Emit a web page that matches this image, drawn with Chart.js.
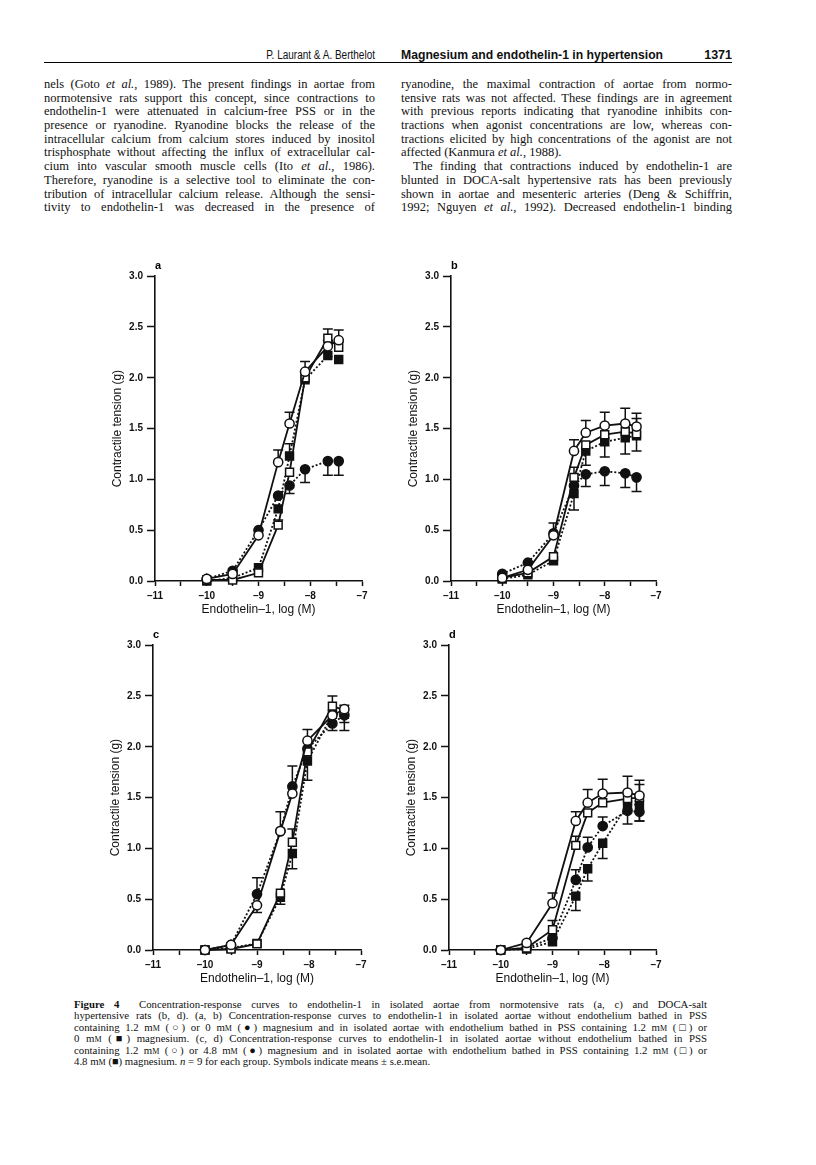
<!DOCTYPE html>
<html>
<head>
<meta charset="utf-8">
<script src="https://cdn.jsdelivr.net/npm/chart.js@4.4.1/dist/chart.umd.min.js"></script>
<style>
  body { margin: 0; background: #fff; width: 816px; height: 1165px; position: relative; overflow: hidden;
         font-family: "Liberation Serif", "Times New Roman", serif; color: #111; }
  .hdr { position: absolute; left: 44px; top: 0; width: 688px; height: 62px; border-bottom: 1.6px solid #000; }
  .hdr span { position: absolute; top: 48px; font-family: "Liberation Sans Narrow", "Arial Narrow", "Liberation Sans", sans-serif; font-size: 12.5px; line-height: 14px; white-space: nowrap; }
  .col { position: absolute; top: 78px; width: 331px; font-size: 12.5px; line-height: 13.7px; }
  .col div { text-align: justify; text-align-last: justify; height: 13.7px; }
  .col div.l { text-align-last: left; }
  .cap { position: absolute; left: 74px; top: 999px; width: 633px; font-size: 10.8px; line-height: 11.4px; }
  .cap div { text-align: justify; text-align-last: justify; height: 11.4px; }
  .cap div.l { text-align-last: left; }
  .sc { font-variant: small-caps; }
  canvas { position: absolute; }
</style>
</head>
<body>

<div class="hdr">
  <span style="right:357px;transform:scaleX(0.8);transform-origin:right">P. Laurant &amp; A. Berthelot</span>
  <span style="left:357px;font-weight:bold;transform:scaleX(0.975);transform-origin:left">Magnesium and endothelin-1 in hypertension</span>
  <span style="right:0;font-weight:bold;font-family:'Liberation Sans',sans-serif">1371</span>
</div>

<div class="col" style="left:44px">
  <div>nels (Goto <i>et al.</i>, 1989). The present findings in aortae from</div>
  <div>normotensive rats support this concept, since contractions to</div>
  <div>endothelin-1 were attenuated in calcium-free PSS or in the</div>
  <div>presence or ryanodine. Ryanodine blocks the release of the</div>
  <div>intracellular calcium from calcium stores induced by inositol</div>
  <div>trisphosphate without affecting the influx of extracellular cal-</div>
  <div>cium into vascular smooth muscle cells (Ito <i>et al.</i>, 1986).</div>
  <div>Therefore, ryanodine is a selective tool to eliminate the con-</div>
  <div>tribution of intracellular calcium release. Although the sensi-</div>
  <div>tivity to endothelin-1 was decreased in the presence of</div>
</div>

<div class="col" style="left:401px">
  <div>ryanodine, the maximal contraction of aortae from normo-</div>
  <div>tensive rats was not affected. These findings are in agreement</div>
  <div>with previous reports indicating that ryanodine inhibits con-</div>
  <div>tractions when agonist concentrations are low, whereas con-</div>
  <div>tractions elicited by high concentrations of the agonist are not</div>
  <div class="l">affected (Kanmura <i>et al.</i>, 1988).</div>
  <div style="padding-left:12px">The finding that contractions induced by endothelin-1 are</div>
  <div>blunted in DOCA-salt hypertensive rats has been previously</div>
  <div>shown in aortae and mesenteric arteries (Deng &amp; Schiffrin,</div>
  <div>1992; Nguyen <i>et al.</i>, 1992). Decreased endothelin-1 binding</div>
</div>

<canvas id="pa"></canvas>
<canvas id="pb"></canvas>
<canvas id="pc"></canvas>
<canvas id="pd"></canvas>

<div class="cap">
  <div><b>Figure 4</b>&nbsp; Concentration-response curves to endothelin-1 in isolated aortae from normotensive rats (a, c) and DOCA-salt</div>
  <div>hypertensive rats (b, d). (a, b) Concentration-response curves to endothelin-1 in isolated aortae without endothelium bathed in PSS</div>
  <div>containing 1.2 m<span class="sc">m</span> (○) or 0 m<span class="sc">m</span> (●) magnesium and in isolated aortae with endothelium bathed in PSS containing 1.2 m<span class="sc">m</span> (□) or</div>
  <div>0 m<span class="sc">m</span> (■) magnesium. (c, d) Concentration-response curves to endothelin-1 in isolated aortae without endothelium bathed in PSS</div>
  <div>containing 1.2 m<span class="sc">m</span> (○) or 4.8 m<span class="sc">m</span> (●) magnesium and in isolated aortae with endothelium bathed in PSS containing 1.2 m<span class="sc">m</span> (□) or</div>
  <div class="l">4.8 m<span class="sc">m</span> (■) magnesium. <i>n</i> = 9 for each group. Symbols indicate means ± s.e.mean.</div>
</div>

<script>
// log concentration of endothelin-1 (M) for each panel
const logA = [-10, -9.5, -9, -8.62, -8.4, -8.1, -7.66, -7.45];
const logB = [-10, -9.5, -9, -8.6, -8.37, -8.0, -7.6, -7.38];
const logC = [-10, -9.5, -9, -8.55, -8.32, -8.03, -7.55, -7.32];
const logD = [-10, -9.5, -9, -8.55, -8.32, -8.03, -7.55, -7.32];

// contractile tension (g); a,b: open = 1.2 mM, filled = 0 mM; c,d: filled = 4.8 mM
const aOpenCircle   = [0.02, 0.07, 0.45, 1.17, 1.55, 2.06, 2.31, 2.37];
const aFilledCircle = [0.02, 0.10, 0.50, 0.84, 0.94, 1.10, 1.18, 1.18];
const aOpenSquare   = [0.01, 0.01, 0.08, 0.55, 1.07, 2.00, 2.39, 2.30];
const aFilledSquare = [0.00, 0.03, 0.13, 0.71, 1.23, 1.98, 2.22, 2.18];

const bOpenCircle   = [0.03, 0.11, 0.45, 1.28, 1.46, 1.53, 1.55, 1.52];
const bFilledCircle = [0.07, 0.18, 0.47, 0.94, 1.05, 1.08, 1.06, 1.02];
const bOpenSquare   = [0.03, 0.08, 0.24, 1.02, 1.34, 1.44, 1.47, 1.45];
const bFilledSquare = [0.02, 0.06, 0.20, 0.86, 1.28, 1.37, 1.41, 1.43];

const cOpenCircle   = [0.00, 0.05, 0.44, 1.17, 1.54, 2.06, 2.31, 2.37];
const cFilledCircle = [0.00, 0.05, 0.55, 1.17, 1.61, 1.98, 2.23, 2.31];
const cOpenSquare   = [0.00, 0.01, 0.06, 0.56, 1.06, 1.95, 2.40, 2.36];
const cFilledSquare = [0.00, 0.02, 0.065, 0.52, 0.95, 1.86, 2.32, 2.32];

const dOpenCircle   = [0.00, 0.07, 0.46, 1.27, 1.45, 1.54, 1.55, 1.52];
const dFilledCircle = [0.00, 0.02, 0.12, 0.69, 1.01, 1.22, 1.37, 1.36];
const dOpenSquare   = [0.00, 0.02, 0.20, 1.03, 1.35, 1.45, 1.49, 1.50];
const dFilledSquare = [0.00, 0.01, 0.08, 0.53, 0.80, 1.05, 1.43, 1.43];

// s.e.mean, signed: + drawn upward, - drawn downward, 0 = hidden in symbol
const aOpenCircleErr   = [0, 0, 0, 0.12, 0.11, 0.10, 0.06, 0.10];
const aFilledCircleErr = [0, 0, 0, 0, -0.08, -0.13, -0.14, -0.14];
const aOpenSquareErr   = [0, 0, 0, 0.05, 0, 0, 0.09, 0.05];
const aFilledSquareErr = [0, 0, 0, 0, 0.12, 0, 0, 0];

const bOpenCircleErr   = [0, 0, 0, 0.11, 0.12, 0.13, 0.15, 0.13];
const bFilledCircleErr = [0, 0, 0.10, 0, -0.12, -0.14, -0.14, -0.14];
const bOpenSquareErr   = [0, 0, 0, 0.10, 0, 0, 0, 0.15];
const bFilledSquareErr = [0, 0, 0, -0.16, -0.14, -0.15, -0.16, -0.15];

const cOpenCircleErr   = [0, 0, -0.07, 0, 0, 0.11, 0, 0.04];
const cFilledCircleErr = [0, 0, 0.16, 0.19, 0.20, 0, -0.07, -0.07];
const cOpenSquareErr   = [0, 0, 0, 0, 0.13, 0, 0.10, 0];
const cFilledSquareErr = [0, 0, 0, -0.07, -0.15, -0.19, 0, -0.16];

const dOpenCircleErr   = [0, 0, 0.10, 0.09, 0.13, 0.14, 0.16, 0.15];
const dFilledCircleErr = [0, 0, 0, 0.10, 0.10, 0.09, 0, -0.09];
const dOpenSquareErr   = [0, 0, 0.09, 0.09, 0, 0, 0, 0.13];
const dFilledSquareErr = [0, 0, 0, -0.14, -0.12, -0.15, -0.19, -0.16];

const xTicks = [-11, -10, -9, -8, -7];
const yTicks = [0, 0.5, 1, 1.5, 2, 2.5, 3];

Chart.defaults.font.family = '"Liberation Sans", Arial, sans-serif';
Chart.defaults.color = '#111';

// draws the one-sided s.e.m. bars under the symbols
const errorBars = {
  id: 'errorBars',
  beforeDatasetsDraw(chart) {
    const { ctx, scales: { x, y } } = chart;
    ctx.save();
    ctx.strokeStyle = '#111';
    ctx.lineWidth = 1.5;
    chart.data.datasets.forEach(ds => {
      ds.data.forEach((p, i) => {
        const e = ds.errors[i];
        if (!e) return;
        const px = x.getPixelForValue(p.x);
        const y0 = y.getPixelForValue(p.y);
        const y1 = y.getPixelForValue(p.y + e);
        ctx.beginPath();
        ctx.moveTo(px, y0); ctx.lineTo(px, y1);
        ctx.moveTo(px - 5, y1); ctx.lineTo(px + 5, y1);
        ctx.stroke();
      });
    });
    ctx.restore();
  }
};

function series(xs, ys, errs, shape, filled) {
  return {
    data: xs.map((v, i) => ({ x: v, y: ys[i] })),
    errors: errs,
    borderColor: '#111',
    borderWidth: 1.8,
    borderDash: filled ? [2, 2] : [],
    pointStyle: shape,
    pointRadius: shape === 'rect' ? 5.6 : 4.6,
    pointBackgroundColor: filled ? '#111' : '#fff',
    pointBorderColor: '#111',
    pointBorderWidth: 1.5,
    tension: 0,
    clip: false
  };
}

// chart area boxes on the page
function panel(id, letter, box, datasets) {
  const yAxisW = 55, xAxisH = 45, topPad = 4, titleH = 17.2;
  const cv = document.getElementById(id);
  const left = box.l - yAxisW;
  const top = Math.round(box.t - topPad - titleH);
  const w = Math.round(box.r - left + 25);
  const h = Math.round(box.b + xAxisH - top);
  cv.width = w; cv.height = h;
  cv.style.left = left + 'px'; cv.style.top = top + 'px';
  new Chart(cv, {
    type: 'line',
    data: { datasets },
    plugins: [errorBars],
    options: {
      responsive: false,
      animation: false,
      devicePixelRatio: 1,
      layout: { padding: { left: 0, top: topPad, right: w - yAxisW - (box.r - box.l), bottom: 0 } },
      plugins: {
        legend: { display: false },
        tooltip: { enabled: false },
        title: { display: true, text: letter, align: 'start', fullSize: false, color: '#000',
                 font: { size: 11, weight: 'bold' }, padding: { top: 0, bottom: 4 } }
      },
      scales: {
        x: {
          type: 'linear', min: -11, max: -7,
          afterFit: s => { s.height = xAxisH; },
          afterBuildTicks: s => { s.ticks = [-11, -10.5, -10, -9.5, -9, -8.5, -8, -7.5, -7].map(v => ({ value: v })); },
          ticks: { autoSkip: false, maxRotation: 0, padding: 4, color: '#111',
                   font: { size: 10, weight: 'bold' },
                   callback: v => xTicks.includes(v) ? '\u2013' + Math.abs(v) : '' },
          grid: { drawOnChartArea: false, drawTicks: true, tickLength: 5, tickWidth: 1.5, tickColor: '#111' },
          border: { display: true, color: '#111', width: 1.6 },
          title: { display: true, text: 'Endothelin\u20131, log (M)', color: '#111',
                   font: { size: 12 }, padding: { top: 0, bottom: 9 } }
        },
        y: {
          min: 0, max: 3,
          afterFit: s => { s.width = yAxisW; },
          afterBuildTicks: s => { s.ticks = yTicks.map(v => ({ value: v })); },
          ticks: { padding: 4, color: '#111', font: { size: 10, weight: 'bold' },
                   callback: v => v.toFixed(1) },
          grid: { drawOnChartArea: false, drawTicks: true, tickLength: 8, tickWidth: 1.5, tickColor: '#111' },
          border: { display: true, color: '#111', width: 1.6 },
          title: { display: true, text: 'Contractile tension (g)', color: '#111',
                   font: { size: 12 }, padding: { top: 10.8, bottom: 0 } }
        }
      }
    }
  });
}

panel('pa', 'a', { l: 155, t: 276, r: 362, b: 581 }, [
  series(logA, aOpenCircle, aOpenCircleErr, 'circle', false),
  series(logA, aOpenSquare, aOpenSquareErr, 'rect', false),
  series(logA, aFilledCircle, aFilledCircleErr, 'circle', true),
  series(logA, aFilledSquare, aFilledSquareErr, 'rect', true)
]);
panel('pb', 'b', { l: 451, t: 276, r: 656, b: 581 }, [
  series(logB, bOpenCircle, bOpenCircleErr, 'circle', false),
  series(logB, bOpenSquare, bOpenSquareErr, 'rect', false),
  series(logB, bFilledCircle, bFilledCircleErr, 'circle', true),
  series(logB, bFilledSquare, bFilledSquareErr, 'rect', true)
]);
panel('pc', 'c', { l: 153, t: 645, r: 361, b: 950 }, [
  series(logC, cOpenCircle, cOpenCircleErr, 'circle', false),
  series(logC, cOpenSquare, cOpenSquareErr, 'rect', false),
  series(logC, cFilledCircle, cFilledCircleErr, 'circle', true),
  series(logC, cFilledSquare, cFilledSquareErr, 'rect', true)
]);
panel('pd', 'd', { l: 449, t: 645, r: 656, b: 950 }, [
  series(logD, dOpenCircle, dOpenCircleErr, 'circle', false),
  series(logD, dOpenSquare, dOpenSquareErr, 'rect', false),
  series(logD, dFilledCircle, dFilledCircleErr, 'circle', true),
  series(logD, dFilledSquare, dFilledSquareErr, 'rect', true)
]);
</script>
</body>
</html>
